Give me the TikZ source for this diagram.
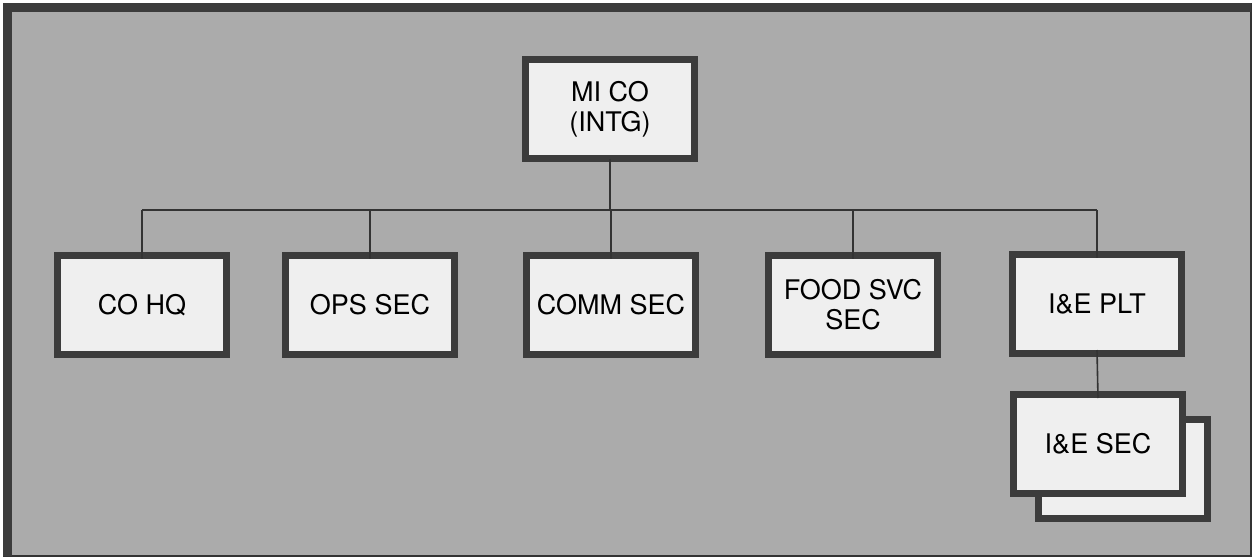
\documentclass[tikz,border=0pt]{standalone}
\usepackage{fontspec}
\setmainfont{TeX Gyre Heros}
\definecolor{bggray}{HTML}{ABABAB}
\definecolor{boxfill}{HTML}{EFEFEF}
\definecolor{edgedark}{HTML}{3C3C3C}
\begin{document}
\begin{tikzpicture}[x=1pt,y=-1pt,
  unit/.style={draw=edgedark, line width=7pt, fill=boxfill, minimum width=169pt, minimum height=99pt,
    inner sep=0pt, outer sep=0pt, font=\fontsize{27}{30}\selectfont, align=center, text=black},
  link/.style={draw=black!80, line width=1.6pt}]
\useasboundingbox (0,0) rectangle (1254,558);
\fill[white] (0,0) rectangle (1254,558);
\fill[bggray] (4,4) rectangle (1251,556);
\draw[black!80, line width=1.5pt] (4,4) rectangle (1251,556);
\draw[edgedark, line width=9pt] (7.5,556) -- (7.5,7.5) -- (1251,7.5);
% nodes
\node[unit] (mico) at (610,109) {MI CO\\(INTG)};
\node[unit] (cohq) at (142,305) {CO HQ};
\node[unit] (ops) at (370,305) {OPS SEC};
\node[unit] (comm) at (611,305) {COMM SEC};
\node[unit] (food) at (853,305) {FOOD SVC\\SEC};
\node[unit] (iepl) at (1097,304) {I\&E PLT};
\node[unit] (iesecb) at (1123,469) {};
\node[unit] (iesec) at (1098,444) {I\&E SEC};
% connectors
\coordinate (bus) at (610,210);
\draw[link] (mico.south) -- (bus);
\draw[link] (cohq.north |- bus) -- (iepl.north |- bus);
\draw[link] (cohq.north |- bus) -- ([yshift=-3.5pt]cohq.north);
\draw[link] (ops.north |- bus) -- ([yshift=-3.5pt]ops.north);
\draw[link] (comm.north |- bus) -- ([yshift=-3.5pt]comm.north);
\draw[link] (food.north |- bus) -- ([yshift=-3.5pt]food.north);
\draw[link] (iepl.north |- bus) -- ([yshift=-3.5pt]iepl.north);
\draw[link] ([yshift=3.5pt]iepl.south) -- ([yshift=-3.5pt]iesec.north);
\end{tikzpicture}
\end{document}
